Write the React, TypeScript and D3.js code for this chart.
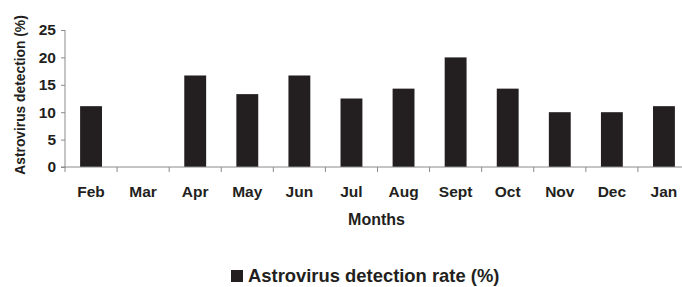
import React, { useEffect, useRef } from "react";
import * as d3 from "d3";

const width = 682;
const height = 287;
const margin = { top: 30, left: 65, bottom: 120, right: -8 };

const months = ["Feb", "Mar", "Apr", "May", "Jun", "Jul", "Aug", "Sept", "Oct", "Nov", "Dec", "Jan"];
const detectionRate = [11.1, 0, 16.7, 13.3, 16.7, 12.5, 14.3, 20, 14.3, 10, 10, 11.1];
const yTicks = [0, 5, 10, 15, 20, 25];

const font = "'Liberation Sans', Arial, sans-serif";
const barColor = "#231f20";
const axisColor = "#8a8a8a";

export default function App() {
  const yAxisRef = useRef<SVGGElement>(null);

  const x = d3
    .scaleBand()
    .domain(months)
    .range([margin.left, width - margin.right])
    .paddingInner(0.58)
    .paddingOuter(0.29);

  const y = d3
    .scaleLinear()
    .domain([0, 25])
    .range([height - margin.bottom, margin.top]);

  const y0 = y(0);
  const step = x.step();

  useEffect(() => {
    const yAxis = d3.axisLeft(y).tickValues(yTicks).tickSize(4).tickPadding(5);
    const gy = d3.select(yAxisRef.current!);
    gy.call(yAxis);
    gy.select(".domain").attr("stroke", axisColor).attr("d", `M-4,${y0}H0V${y(25)}`);
    gy.selectAll(".tick line").attr("stroke", axisColor);
    gy.selectAll(".tick text")
      .attr("fill", "#231f20")
      .style("font-family", font)
      .style("font-weight", "bold")
      .style("font-size", "15.5px");
  }, []);

  // category boundary ticks on the x axis
  const boundaries = months.map((m) => (x(m) as number) - (step * 0.58) / 2);

  return (
    <svg
      width={width}
      height={height}
      style={{ position: "absolute", left: 0, top: 0, background: "#fff" }}
    >
      {months.map((m, i) => (
        <rect
          key={m}
          x={x(m)}
          y={y(detectionRate[i])}
          width={x.bandwidth()}
          height={y0 - y(detectionRate[i])}
          fill={barColor}
        />
      ))}

      <g ref={yAxisRef} transform={`translate(${margin.left},0)`} />

      <g>
        <line x1={margin.left} x2={width} y1={y0} y2={y0} stroke={axisColor} />
        {boundaries.map((b, i) => (
          <line key={i} x1={b} x2={b} y1={y0} y2={y0 + 5} stroke={axisColor} />
        ))}
        {months.map((m) => (
          <text
            key={m}
            x={(x(m) as number) + x.bandwidth() / 2}
            y={197}
            textAnchor="middle"
            fill="#231f20"
            style={{ fontFamily: font, fontWeight: "bold", fontSize: "15.5px" }}
          >
            {m}
          </text>
        ))}
      </g>

      <text
        transform={`translate(25,95) rotate(-90)`}
        textAnchor="middle"
        fill="#231f20"
        style={{ fontFamily: font, fontWeight: "bold", fontSize: "13.8px" }}
      >
        Astrovirus detection (%)
      </text>

      <text
        x={376.5}
        y={225}
        textAnchor="middle"
        fill="#231f20"
        style={{ fontFamily: font, fontWeight: "bold", fontSize: "16px" }}
      >
        Months
      </text>

      <g transform="translate(231,270)">
        <rect x={0} y={0} width={12} height={12} fill={barColor} />
        <text
          x={17}
          y={11.5}
          fill="#231f20"
          style={{ fontFamily: font, fontWeight: "bold", fontSize: "18.4px" }}
        >
          Astrovirus detection rate (%)
        </text>
      </g>
    </svg>
  );
}
